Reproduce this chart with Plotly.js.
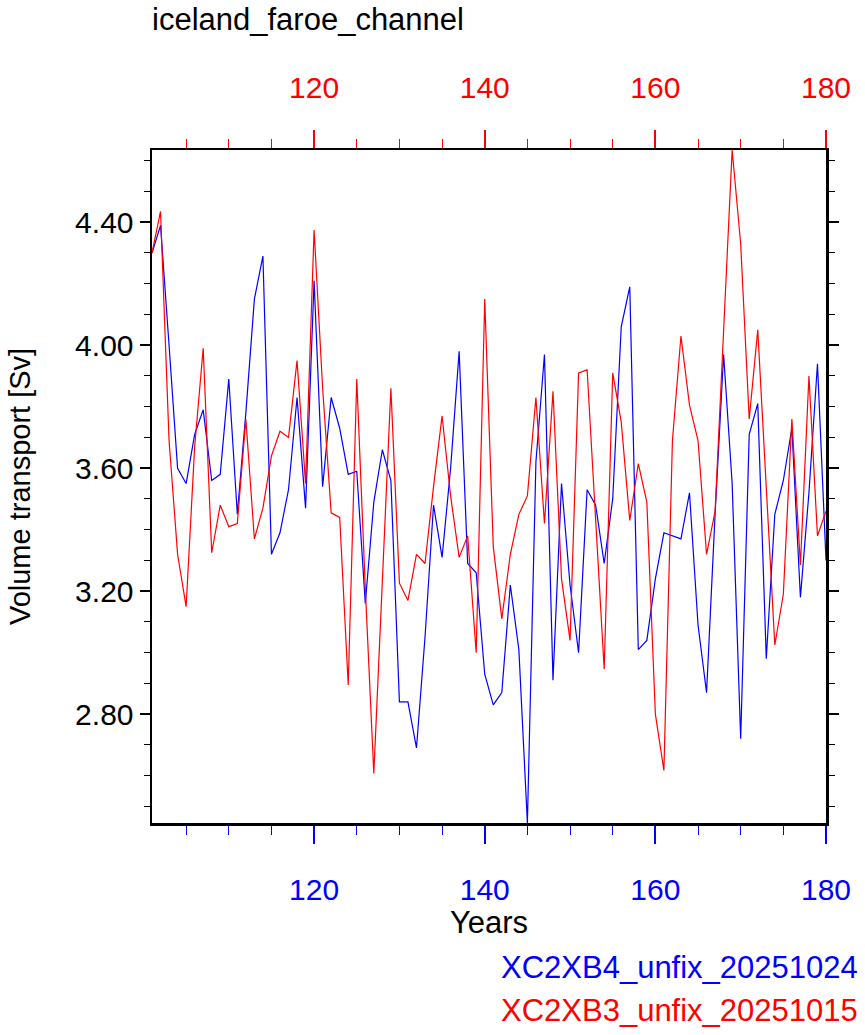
<!DOCTYPE html>
<html><head><meta charset="utf-8">
<script src="https://cdn.plot.ly/plotly-3.0.1.min.js"></script>
<style>html,body{margin:0;padding:0;background:#fff}</style>
</head><body>
<div id="chart" style="width:865px;height:1035px"></div>
<script>
const years = [101,102,103,104,105,106,107,108,109,110,
  111,112,113,114,115,116,117,118,119,120,
  121,122,123,124,125,126,127,128,129,130,
  131,132,133,134,135,136,137,138,139,140,
  141,142,143,144,145,146,147,148,149,150,
  151,152,153,154,155,156,157,158,159,160,
  161,162,163,164,165,166,167,168,169,170,
  171,172,173,174,175,176,177,178,179,180];

const seriesBlueName = 'XC2XB4_unfix_20251024';
const seriesBlue = [4.30,4.39,4.00,3.60,3.55,3.71,3.79,3.56,3.58,3.89,
  3.45,3.78,4.15,4.29,3.32,3.39,3.53,3.83,3.47,4.21,
  3.54,3.83,3.73,3.58,3.59,3.16,3.49,3.66,3.56,2.84,
  2.84,2.69,3.05,3.48,3.31,3.60,3.98,3.29,3.26,2.93,
  2.83,2.87,3.22,3.01,2.446,3.62,3.97,2.91,3.55,3.22,
  3.00,3.53,3.48,3.29,3.50,4.06,4.19,3.01,3.04,3.24,
  3.39,3.38,3.37,3.52,3.09,2.87,3.45,3.97,3.55,2.72,
  3.71,3.81,2.98,3.45,3.56,3.73,3.18,3.52,3.94,3.30];

const seriesRedName = 'XC2XB3_unfix_20251015';
const seriesRed = [4.30,4.435,3.69,3.32,3.15,3.67,3.99,3.325,3.48,3.41,
  3.42,3.76,3.37,3.47,3.64,3.72,3.70,3.95,3.55,4.375,
  3.86,3.455,3.44,2.895,3.89,3.21,2.607,3.23,3.86,3.226,
  3.17,3.32,3.29,3.54,3.77,3.51,3.31,3.38,3.00,4.15,
  3.345,3.11,3.32,3.45,3.51,3.83,3.42,3.85,3.24,3.04,
  3.91,3.92,3.45,2.946,3.91,3.75,3.43,3.615,3.49,2.80,
  2.617,3.69,4.03,3.805,3.69,3.32,3.46,4.05,4.635,4.33,
  3.76,4.05,3.54,3.025,3.19,3.76,3.285,3.90,3.38,3.46];

const chartTitle = 'iceland_faroe_channel';
const xTitle = 'Years';
const yTitle = 'Volume transport [Sv]';
const xRange = [101, 180];
const yRange = [2.446, 4.635];

const FONT = 'Liberation Sans, Arial, Helvetica, sans-serif';
const BLUE = '#0000ff', RED = '#ff0000';

const traces = [
  {x: years, y: seriesBlue, name: seriesBlueName, type: 'scatter', mode: 'lines',
   line: {color: BLUE, width: 1.2}, xaxis: 'x', yaxis: 'y', hoverinfo: 'x+y'},
  {x: years, y: seriesRed, name: seriesRedName, type: 'scatter', mode: 'lines',
   line: {color: RED, width: 1.2}, xaxis: 'x2', yaxis: 'y', hoverinfo: 'x+y'}
];

const layout = {
  width: 865, height: 1035,
  margin: {l: 152, r: 39, t: 150, b: 212, pad: 0},
  paper_bgcolor: '#ffffff', plot_bgcolor: '#ffffff',
  font: {family: FONT, size: 30, color: '#000'},
  showlegend: false,
  title: {text: chartTitle, x: 0, xref: 'paper', xanchor: 'left',
          y: 1 - 8/1035, yref: 'container', yanchor: 'top',
          font: {family: FONT, size: 31, color: '#000'}},
  xaxis: {
    range: xRange, tick0: 120, dtick: 20, ticks: 'outside', ticklen: 18, tickwidth: 2,
    tickcolor: BLUE, tickfont: {family: FONT, size: 30, color: BLUE},
    ticklabelstandoff: 20,
    showline: true, linecolor: '#000', linewidth: 2.5, mirror: true,
    showgrid: false, zeroline: false,
    minor: {tick0: 120, dtick: 5, ticks: 'outside', ticklen: 9, tickwidth: 1, tickcolor: BLUE, showgrid: false},
    title: {text: xTitle, font: {family: FONT, size: 31, color: '#000'}, standoff: 6}
  },
  xaxis2: {
    overlaying: 'x', side: 'top', anchor: 'y',
    range: xRange, tick0: 120, dtick: 20, ticks: 'outside', ticklen: 18, tickwidth: 2,
    tickcolor: RED, tickfont: {family: FONT, size: 30, color: RED},
    ticklabelstandoff: 20,
    showline: true, linecolor: '#000', linewidth: 2.5,
    showgrid: false, zeroline: false,
    minor: {tick0: 120, dtick: 5, ticks: 'outside', ticklen: 9, tickwidth: 1, tickcolor: RED, showgrid: false}
  },
  yaxis: {
    range: yRange, tick0: 2.8, dtick: 0.4, tickformat: '.2f',
    ticks: 'outside', ticklen: 10, tickwidth: 2, tickcolor: '#000',
    tickfont: {family: FONT, size: 30, color: '#000'},
    showline: true, linecolor: '#000', linewidth: 2.5, mirror: 'ticks',
    showgrid: false, zeroline: false,
    minor: {tick0: 2.8, dtick: 0.1, ticks: 'outside', ticklen: 6, tickwidth: 1, tickcolor: '#000', showgrid: false},
    title: {text: yTitle, font: {family: FONT, size: 29, color: '#000'}, standoff: 36}
  },
  annotations: [
    {text: seriesBlueName, xref: 'paper', yref: 'paper', x: (860 - 152)/674, y: (823.3 - 967.5)/673.8,
     xanchor: 'right', yanchor: 'middle', showarrow: false, font: {family: FONT, size: 31, color: BLUE}},
    {text: seriesRedName, xref: 'paper', yref: 'paper', x: (860 - 152)/674, y: (823.3 - 1011.5)/673.8,
     xanchor: 'right', yanchor: 'middle', showarrow: false, font: {family: FONT, size: 31, color: RED}}
  ]
};

Plotly.newPlot('chart', traces, layout, {displayModeBar: false, staticPlot: true});
</script>
</body></html>
